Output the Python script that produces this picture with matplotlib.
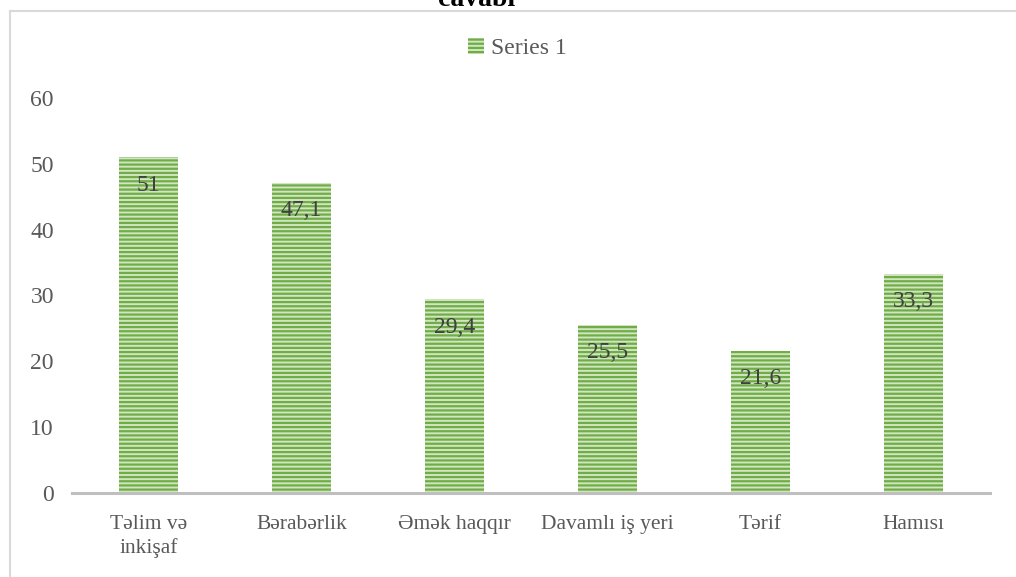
import matplotlib
matplotlib.use("Agg")
import matplotlib.pyplot as plt
from matplotlib.lines import Line2D

categories = ["Təlim və\ninkişaf", "Bərabərlik", "Əmək haqqır", "Davamlı iş yeri", "Tərif", "Hamısı"]
values = [51, 47.1, 29.4, 25.5, 21.6, 33.3]
value_labels = ["51", "47,1", "29,4", "25,5", "21,6", "33,3"]
yticks = [0, 10, 20, 30, 40, 50, 60]

plt.rcParams["font.family"] = ["Liberation Serif", "DejaVu Serif"]
plt.rcParams["hatch.linewidth"] = 1.6

text_gray = "#595959"
stripe = "#70ad47"
fill = "#d0e6c0"

fig = plt.figure(figsize=(10.16, 5.77), dpi=100)
ax = fig.add_axes([0.0709, 0.1456, 0.9035, 0.6846])

x = range(len(categories))
bars = ax.bar(x, values, width=0.38, color=fill, edgecolor=stripe,
              hatch="----", linewidth=0, label="Series 1")

for b, lab in zip(bars, value_labels):
    ax.annotate(lab, (b.get_x() + b.get_width() / 2, b.get_height()),
                xytext=(0, -20), textcoords="offset points",
                ha="center", va="center", fontsize=17, color="#404040")

ax.set_xlim(-0.5, len(categories) - 0.5)
ax.set_ylim(0, 60)
ax.set_yticks(yticks)
ax.set_xticks(list(x))
ax.set_xticklabels(categories, fontsize=15.5, color=text_gray, linespacing=1.25)
ax.tick_params(axis="y", labelsize=17, labelcolor=text_gray, length=0, pad=13)
ax.tick_params(axis="x", length=0, pad=16)

for side in ["top", "right", "left"]:
    ax.spines[side].set_visible(False)
ax.spines["bottom"].set_color("#bfbfbf")
ax.spines["bottom"].set_linewidth(2.2)

leg = ax.legend(loc="center", bbox_to_anchor=(0.485, 1.125), frameon=False,
                fontsize=17, handlelength=0.7, handleheight=0.7, handletextpad=0.3)
for t in leg.get_texts():
    t.set_color(text_gray)

# chart border (top and left edges only)
fig.add_artist(Line2D([10 / 1016, 1.0], [1 - 11 / 577, 1 - 11 / 577],
                      transform=fig.transFigure, color="#d9d9d9", lw=1.5))
fig.add_artist(Line2D([10 / 1016, 10 / 1016], [0, 1 - 11 / 577],
                      transform=fig.transFigure, color="#d9d9d9", lw=1.5))

fig.text(477 / 1016, 1 - 6 / 577, "cavabı", ha="center", va="baseline",
         fontsize=20, fontweight="bold", color="black")

fig.savefig("out.png", dpi=100)
